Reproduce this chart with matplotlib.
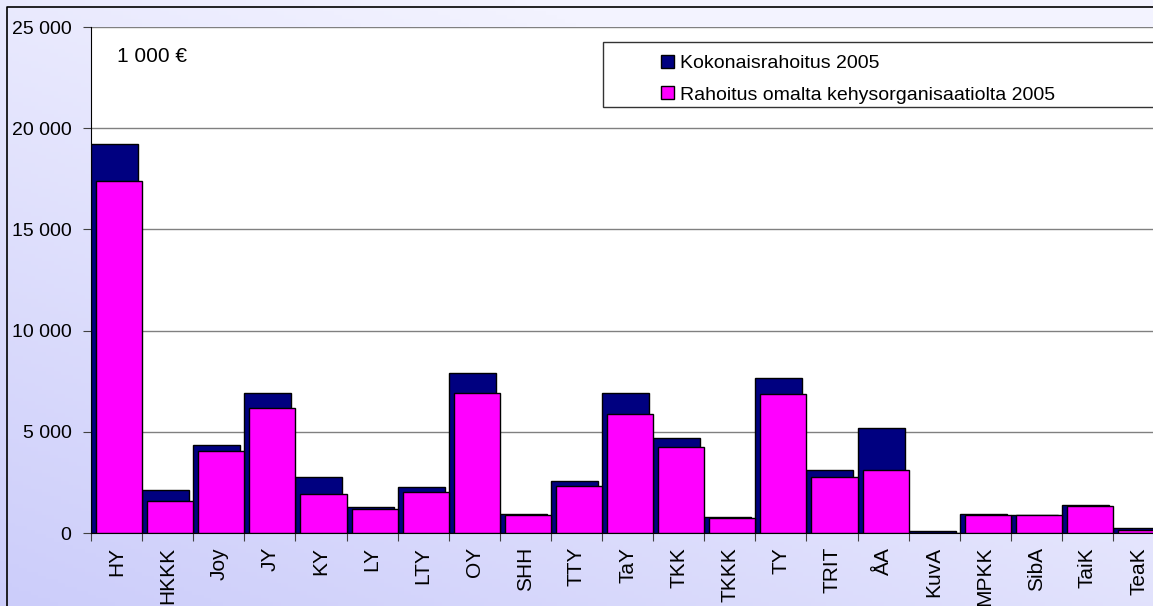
import matplotlib
matplotlib.use("Agg")
import matplotlib.pyplot as plt
import numpy as np
from matplotlib.patches import Rectangle
from matplotlib.colors import LinearSegmentedColormap

categories = ["HY", "HKKK", "Joy", "JY", "KY", "LY", "LTY", "OY", "SHH", "TTY", "TaY",
              "TKK", "TKKK", "TY", "TRIT", "ÅA", "KuvA", "MPKK", "SibA", "TaiK", "TeaK"]
total_2005 = [19200, 2100, 4350, 6900, 2750, 1300, 2250, 7900, 950, 2550, 6900,
              4700, 800, 7650, 3100, 5200, 80, 920, 900, 1400, 250]
own_org_2005 = [17400, 1600, 4050, 6200, 1950, 1180, 2050, 6900, 870, 2300, 5900,
                4250, 740, 6850, 2750, 3100, 0, 890, 890, 1330, 170]
series_labels = ["Kokonaisrahoitus 2005", "Rahoitus omalta kehysorganisaatiolta 2005"]
yticks = [0, 5000, 10000, 15000, 20000, 25000]
ytick_labels = ["0", "5 000", "10 000", "15 000", "20 000", "25 000"]
unit_label = "1 000 €"

plt.rcParams['font.family'] = ['Liberation Sans', 'DejaVu Sans']

W, H = 1153, 606
fig = plt.figure(figsize=(W / 100, H / 100), dpi=100)

# background gradient (bottom-left darker to top-right lighter)
bg = fig.add_axes([0, 0, 1, 1], zorder=-10)
xx, yy = np.meshgrid(np.linspace(0, 1, 300), np.linspace(0, 1, 160))
val = np.clip(0.55 * xx + 0.75 * yy, 0, 1)
cmap = LinearSegmentedColormap.from_list("bg", ["#cccdfa", "#f3f3ff"])
bg.imshow(val, cmap=cmap, origin="lower", extent=[0, 1, 0, 1], aspect="auto")
bg.set_xlim(0, 1); bg.set_ylim(0, 1)
bg.axis("off")
# outer chart border (top/left)
bg.plot([6.5 / W, 6.5 / W, 1], [0, 1 - 7 / H, 1 - 7 / H], color="black", lw=1.2)

left_px, bottom_px, cat_w = 91, 533, 51.1
n = len(categories)
ax = fig.add_axes([left_px / W, (H - bottom_px) / H, n * cat_w / W, 506 / H])
ax.set_facecolor("white")

x = np.arange(n)
ax.bar(x - 0.5, total_2005, width=0.92, align="edge", color="#000080",
       edgecolor="black", linewidth=1.0, label=series_labels[0], zorder=3)
ax.bar(x - 0.5 + 0.098, own_org_2005, width=0.902, align="edge", color="#ff00ff",
       edgecolor="black", linewidth=1.0, label=series_labels[1], zorder=4)

ax.set_xlim(-0.5, n - 0.5)
ax.set_ylim(0, 25000)
ax.set_yticks(yticks)
ax.set_yticklabels(ytick_labels, fontsize=14)
ax.yaxis.grid(True, color="#808080", linewidth=1.0, zorder=1)
ax.set_axisbelow(True)

ax.set_xticks(np.arange(n + 1) - 0.5)
ax.set_xticklabels([])
ax.set_xticks(x, minor=True)
ax.set_xticklabels(categories, minor=True, rotation=90, fontsize=15, va="top")
ax.tick_params(axis="x", which="minor", length=0, pad=10)
ax.tick_params(axis="x", which="major", length=6, direction="out", color="#404040")
ax.tick_params(axis="y", length=6, direction="out", color="#404040", pad=8)

for s in ["top", "right"]:
    ax.spines[s].set_visible(False)
ax.spines["left"].set_color("black")
ax.spines["bottom"].set_color("black")

fig.text(117 / W, 1 - 57 / H, unit_label, fontsize=15, ha="left", va="center")

# legend box
fig.add_artist(Rectangle((603 / W, 1 - 107 / H), (W + 10 - 603) / W, 65 / H,
                         facecolor="white", edgecolor="#333333", lw=1.0,
                         transform=fig.transFigure, zorder=5))
leg = fig.legend(loc="upper left", bbox_to_anchor=(661 / W, 1 - 55 / H),
                 frameon=False, fontsize=14, handlelength=0.65, handleheight=0.65,
                 handletextpad=0.35, labelspacing=0.72, borderaxespad=0, borderpad=0)
leg.set_zorder(6)

fig.savefig("out.png", dpi=100)
